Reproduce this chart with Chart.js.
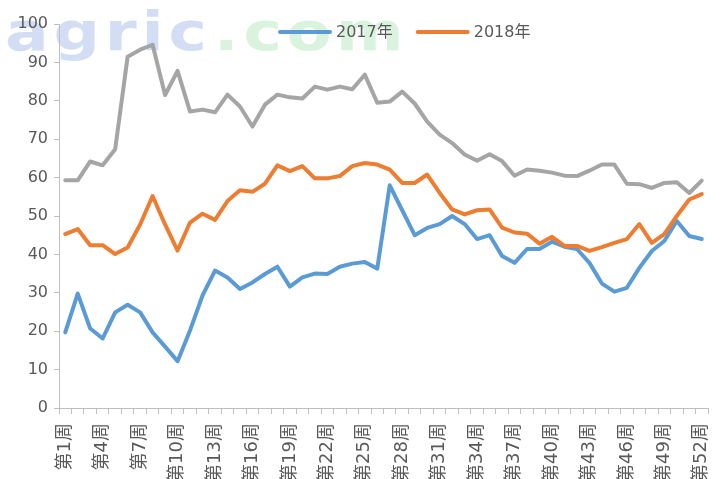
<!DOCTYPE html>
<html>
<head>
<meta charset="utf-8">
<script src="https://cdn.jsdelivr.net/npm/chart.js@4/dist/chart.umd.min.js"></script>
<style>
    html, body { margin: 0; padding: 0; background: #fff; }
    #wrap { width: 723px; height: 479px; }
</style>
</head>
<body>
<div id="wrap"><canvas id="chart" width="723" height="479"></canvas></div>
<script>
// weeks 1..52
const weeks = [];
for (let i = 1; i <= 52; i++) weeks.push('第' + i + '周');

const yTicks = [0, 10, 20, 30, 40, 50, 60, 70, 80, 90, 100];

// grey line (no legend entry in the source)
const greyValues = [59.3, 59.3, 64.2, 63.2, 67.4, 91.5, 93.3, 94.6, 81.5, 87.8,
    77.2, 77.7, 77.0, 81.6, 78.5, 73.3, 79.0, 81.6, 80.9, 80.6,
    83.7, 82.9, 83.7, 83.0, 86.8, 79.5, 79.8, 82.4, 79.3, 74.6,
    71.2, 69.0, 66.0, 64.4, 66.1, 64.3, 60.5, 62.1, 61.8, 61.3,
    60.5, 60.4, 61.8, 63.4, 63.4, 58.4, 58.3, 57.3, 58.6, 58.8,
    56.0, 59.2];

const values2017 = [19.7, 29.8, 20.7, 18.1, 24.9, 26.9, 24.9, 19.7, 16.0, 12.2,
    20.2, 29.3, 35.8, 34.0, 31.0, 32.7, 34.9, 36.8, 31.6, 34.0,
    35.0, 34.9, 36.8, 37.6, 38.0, 36.3, 58.0, 51.5, 45.0, 46.9,
    47.9, 50.0, 47.9, 44.0, 45.0, 39.6, 37.8, 41.4, 41.4, 43.3,
    42.0, 41.4, 37.8, 32.4, 30.3, 31.3, 36.5, 40.9, 43.5, 48.7,
    44.8, 44.0];

const values2018 = [45.3, 46.6, 42.4, 42.4, 40.1, 41.8, 47.8, 55.2, 47.8, 41.0,
    48.3, 50.6, 49.0, 53.9, 56.7, 56.3, 58.4, 63.2, 61.7, 63.0,
    59.8, 59.8, 60.4, 63.0, 63.8, 63.4, 62.1, 58.6, 58.6, 60.8,
    56.0, 51.7, 50.4, 51.5, 51.7, 47.0, 45.7, 45.4, 42.8, 44.6,
    42.2, 42.2, 40.9, 41.9, 43.0, 44.0, 47.9, 43.0, 45.3, 50.0,
    54.3, 55.7];

const legendOrder = ['2017年', '2018年'];

const BLUE = '#5b9bd5';
const ORANGE = '#ed7d31';
const GREY = '#a5a5a5';
const TEXT = '#595959';
const AXIS = '#bfbfbf';
const FONT = '"DejaVu Sans", "Noto Sans CJK SC", sans-serif';

// faded site mark behind everything
const watermark = {
    id: 'watermark',
    beforeDraw(chart) {
        const ctx = chart.ctx;
        ctx.save();
        ctx.translate(5, 50);
        ctx.scale(1.2, 1);
        ctx.font = 'bold 54px "DejaVu Sans", sans-serif';
        ctx.letterSpacing = '4px';
        ctx.textBaseline = 'alphabetic';
        ctx.fillStyle = '#d3ddf3';
        ctx.fillText('agric', 0, 0);
        const w = ctx.measureText('agric').width;
        ctx.fillStyle = '#daf3de';
        ctx.fillText('.com', w + 2, 0);
        ctx.restore();
    }
};

// legend sits inside the plot, only the two named years
const yearLegend = {
    id: 'yearLegend',
    afterDraw(chart) {
        const ctx = chart.ctx;
        ctx.save();
        ctx.font = '16px ' + FONT;
        ctx.textBaseline = 'middle';
        let x = 280;
        const y = 32;
        legendOrder.forEach(name => {
            const ds = chart.data.datasets.find(d => d.label === name);
            ctx.strokeStyle = ds.borderColor;
            ctx.lineWidth = 4;
            ctx.lineCap = 'round';
            ctx.beginPath();
            ctx.moveTo(x, y);
            ctx.lineTo(x + 50, y);
            ctx.stroke();
            ctx.fillStyle = TEXT;
            ctx.fillText(ds.label, x + 56, y + 1);
            x += 56 + ctx.measureText(ds.label).width + 25;
        });
        ctx.restore();
    }
};

function lineSet(label, data, color) {
    return {
        label: label,
        data: data,
        borderColor: color,
        backgroundColor: color,
        borderWidth: 4,
        pointRadius: 0,
        tension: 0,
        borderJoinStyle: 'round',
        borderCapStyle: 'round'
    };
}

new Chart(document.getElementById('chart'), {
    type: 'line',
    data: {
        labels: weeks,
        datasets: [
            lineSet('2016年', greyValues, GREY),
            lineSet('2018年', values2018, ORANGE),
            lineSet('2017年', values2017, BLUE)
        ]
    },
    options: {
        responsive: false,
        animation: false,
        layout: { padding: { top: 24, right: 15, left: 0, bottom: 0 } },
        plugins: {
            legend: { display: false },
            tooltip: { enabled: false }
        },
        scales: {
            x: {
                offset: true,
                grid: { display: true, drawOnChartArea: false, offset: true, tickLength: 6, color: AXIS },
                border: { color: AXIS, width: 1 },
                ticks: {
                    autoSkip: false,
                    maxRotation: 90,
                    minRotation: 90,
                    padding: 9,
                    color: TEXT,
                    font: { family: FONT, size: 18 },
                    callback: function (v, i) {
                        return i % 3 === 0 ? this.getLabelForValue(v) : '';
                    }
                },
                afterFit(scale) {
                    scale.height = 71;
                    scale.paddingLeft = 0;
                    scale.paddingRight = 0;
                }
            },
            y: {
                min: 0,
                max: 100,
                afterBuildTicks(scale) { scale.ticks = yTicks.map(v => ({ value: v })); },
                grid: { display: true, drawOnChartArea: false, tickLength: 5, color: AXIS },
                border: { color: AXIS, width: 1 },
                ticks: {
                    padding: 6,
                    color: TEXT,
                    font: { family: FONT, size: 16 }
                },
                afterFit(scale) { scale.width = 59; }
            }
        }
    },
    plugins: [watermark, yearLegend]
});
</script>
</body>
</html>
